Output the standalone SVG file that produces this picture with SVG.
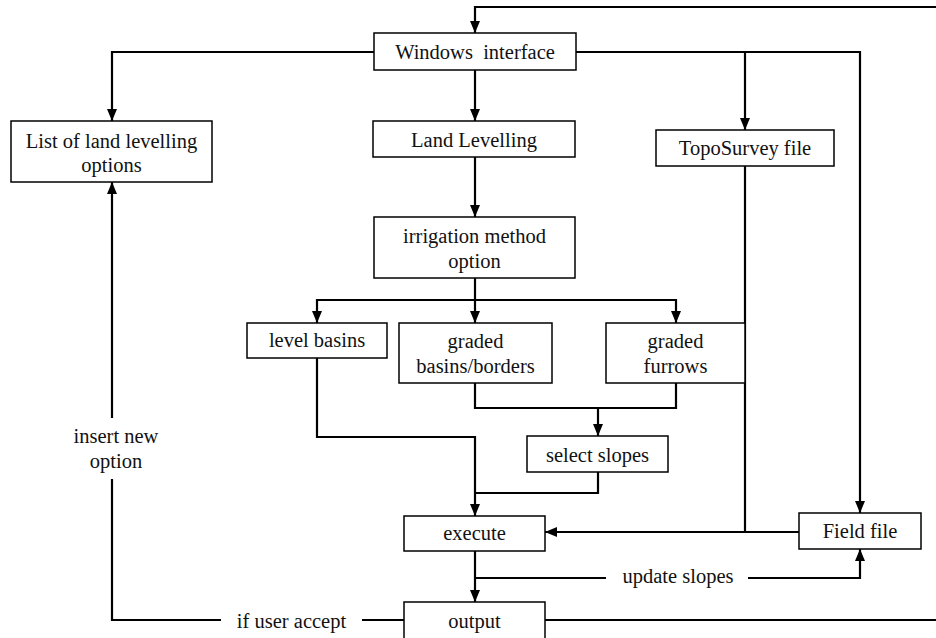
<svg xmlns="http://www.w3.org/2000/svg" width="936" height="638" viewBox="0 0 936 638">
<style>
.box{fill:#fff;stroke:#000;stroke-width:1.5}
.t{font-family:'Liberation Serif','Times New Roman',Times,serif;font-size:20.5px;fill:#111;text-anchor:middle;white-space:pre}
.c{fill:none;stroke:#000;stroke-width:2.2}
</style>
<defs>
<marker id="ah" markerUnits="userSpaceOnUse" markerWidth="13" markerHeight="13" viewBox="0 0 13 13" refX="12" refY="6.5" orient="auto">
<path d="M0,1.5 L12,6.5 L0,11.5 Z" fill="#000"/>
</marker>
</defs>
<rect width="936" height="638" fill="#fff"/>
<g id="connectors">
<path class="c" d="M936,7 H475 V33" marker-end="url(#ah)"/>
<path class="c" d="M374,52 H112 V121" marker-end="url(#ah)"/>
<path class="c" d="M475,70 V121" marker-end="url(#ah)"/>
<path class="c" d="M576,52 H860 V513" marker-end="url(#ah)"/>
<path class="c" d="M745,52 V130" marker-end="url(#ah)"/>
<path class="c" d="M475,157 V217" marker-end="url(#ah)"/>
<path class="c" d="M475,278 V323" marker-end="url(#ah)"/>
<path class="c" d="M475,300 H317 V323" marker-end="url(#ah)"/>
<path class="c" d="M475,300 H676 V323" marker-end="url(#ah)"/>
<path class="c" d="M317,358 V437 H475 V516" marker-end="url(#ah)"/>
<path class="c" d="M475,383 V408 H676 V383"/>
<path class="c" d="M598,408 V436" marker-end="url(#ah)"/>
<path class="c" d="M598,472 V493 H475"/>
<path class="c" d="M745,166 V532"/>
<path class="c" d="M799,532 H545" marker-end="url(#ah)"/>
<path class="c" d="M475,551 V602" marker-end="url(#ah)"/>
<path class="c" d="M475,578 H606"/>
<path class="c" d="M748,578 H860 V549" marker-end="url(#ah)"/>
<path class="c" d="M545,620 H936"/>
<path class="c" d="M404,620 H362"/>
<path class="c" d="M221,620 H112 V479"/>
<path class="c" d="M112,418 V182" marker-end="url(#ah)"/>
</g>
<g id="windows-interface"><rect class="box" x="374" y="33" width="202" height="37"/><text class="t" x="475" y="59">Windows  interface</text></g>
<g id="list-options"><rect class="box" x="11" y="121" width="201" height="61"/><text class="t" x="111.5" y="148">List of land levelling</text><text class="t" x="111.5" y="172">options</text></g>
<g id="land-levelling"><rect class="box" x="373" y="121" width="202" height="36"/><text class="t" x="474" y="147">Land Levelling</text></g>
<g id="toposurvey"><rect class="box" x="656" y="130" width="178" height="36"/><text class="t" x="745" y="155">TopoSurvey file</text></g>
<g id="irrigation"><rect class="box" x="374" y="217" width="201" height="61"/><text class="t" x="474.5" y="243">irrigation method</text><text class="t" x="474.5" y="268">option</text></g>
<g id="level-basins"><rect class="box" x="247" y="323" width="140" height="35"/><text class="t" x="317" y="347">level basins</text></g>
<g id="graded-basins"><rect class="box" x="399" y="323" width="153" height="60"/><text class="t" x="475.5" y="348">graded</text><text class="t" x="475.5" y="373">basins/borders</text></g>
<g id="graded-furrows"><rect class="box" x="606" y="323" width="139" height="60"/><text class="t" x="675.5" y="348">graded</text><text class="t" x="675.5" y="373">furrows</text></g>
<g id="select-slopes"><rect class="box" x="527" y="436" width="141" height="36"/><text class="t" x="597.5" y="462">select slopes</text></g>
<g id="execute"><rect class="box" x="404" y="516" width="141" height="35"/><text class="t" x="474.5" y="540">execute</text></g>
<g id="field-file"><rect class="box" x="799" y="513" width="122" height="36"/><text class="t" x="860" y="538">Field file</text></g>
<g id="output"><rect class="box" x="404" y="602" width="141" height="40"/><text class="t" x="474.5" y="628">output</text></g>
<g id="labels">
<text class="t" x="116" y="443">insert new</text>
<text class="t" x="116" y="468">option</text>
<text class="t" x="291.5" y="628">if user accept</text>
<text class="t" x="678" y="583">update slopes</text>
</g>
</svg>
